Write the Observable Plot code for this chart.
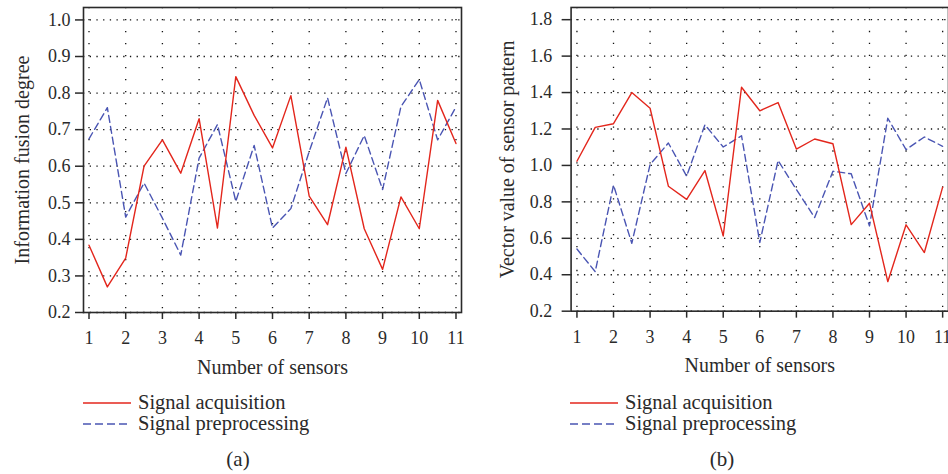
<!DOCTYPE html>
<html>
<head>
<meta charset="utf-8">
<script src="https://cdn.jsdelivr.net/npm/d3@7"></script>
<script src="https://cdn.jsdelivr.net/npm/@observablehq/plot@0.6"></script>
<style>
  html, body { margin: 0; padding: 0; background: #fff; }
  body { width: 948px; height: 474px; overflow: hidden; position: relative; font-family: "Liberation Serif", "DejaVu Serif", serif; color: #222; }
  .panel { position: absolute; top: 0; width: 474px; height: 474px; overflow: hidden; }
  .legend { position: absolute; left: 0; top: 385px; }
</style>
</head>
<body>
<div class="panel" id="pa" style="left:0"></div>
<div class="panel" id="pb" style="left:474px"></div>
<script>
// ---- data ----
const sensors = [1, 1.5, 2, 2.5, 3, 3.5, 4, 4.5, 5, 5.5, 6, 6.5, 7, 7.5, 8, 8.5, 9, 9.5, 10, 10.5, 11];
const xTicks = [1, 2, 3, 4, 5, 6, 7, 8, 9, 10, 11];

const acquisitionA = [0.384, 0.270, 0.349, 0.600, 0.672, 0.581, 0.730, 0.431, 0.845, 0.739, 0.650, 0.793, 0.518, 0.440, 0.652, 0.429, 0.318, 0.516, 0.429, 0.780, 0.662];
const preprocessingA = [0.675, 0.760, 0.461, 0.554, 0.458, 0.357, 0.622, 0.714, 0.504, 0.657, 0.431, 0.484, 0.640, 0.787, 0.580, 0.684, 0.536, 0.763, 0.837, 0.672, 0.762];
const yTicksA = [0.2, 0.3, 0.4, 0.5, 0.6, 0.7, 0.8, 0.9, 1.0];

const acquisitionB = [1.023, 1.209, 1.229, 1.400, 1.314, 0.886, 0.814, 0.972, 0.613, 1.429, 1.300, 1.345, 1.090, 1.145, 1.119, 0.675, 0.792, 0.362, 0.674, 0.522, 0.881];
const preprocessingB = [0.541, 0.417, 0.892, 0.573, 1.005, 1.123, 0.941, 1.223, 1.101, 1.163, 0.577, 1.027, 0.868, 0.714, 0.968, 0.954, 0.668, 1.259, 1.087, 1.156, 1.105];
const yTicksB = [0.2, 0.4, 0.6, 0.8, 1.0, 1.2, 1.4, 1.6, 1.8];

const seriesNames = ["Signal acquisition", "Signal preprocessing"];
const xLabel = "Number of sensors";
const yLabelA = "Information fusion degree";
const yLabelB = "Vector value of sensor pattern";
const captions = ["(a)", "(b)"];

const RED = "#e3261c";
const BLUE = "#4a55b3";
const INK = "#2a2a2a";
const FONT = "Liberation Serif";

function rows(vals) { return sensors.map((s, i) => ({sensor: s, value: vals[i]})); }

function makePanel(cfg) {
  const plot = Plot.plot({
    width: cfg.width,
    height: 385,
    marginLeft: cfg.marginLeft,
    marginRight: cfg.marginRight,
    marginTop: 7,
    marginBottom: 73,
    x: {domain: cfg.xDomain},
    y: {domain: cfg.yDomain},
    style: {fontFamily: FONT, fontSize: "18px", color: INK, background: "transparent", overflow: "visible"},
    marks: [
      Plot.gridX(xTicks, {stroke: "#111", strokeOpacity: 1, strokeWidth: 1.3, strokeDasharray: "1.3,10.7"}),
      Plot.gridY(cfg.yTicks, {stroke: "#111", strokeOpacity: 1, strokeWidth: 1.3, strokeDasharray: "1.3,5.4"}),
      Plot.line(rows(cfg.pre), {x: "sensor", y: "value", stroke: BLUE, strokeWidth: 1.4, strokeDasharray: "7,4"}),
      Plot.line(rows(cfg.acq), {x: "sensor", y: "value", stroke: RED, strokeWidth: 1.4}),
      Plot.frame({stroke: INK, strokeWidth: 1.6}),
      Plot.axisX({ticks: xTicks, tickSize: 7, tickPadding: 12, tickFormat: d => String(d), label: null, stroke: INK, strokeWidth: 1.5, fontSize: 18}),
      Plot.axisY({ticks: cfg.yTicks, tickSize: cfg.tickSizeY, tickPadding: cfg.tickPadY, tickFormat: d3.format(".1f"), label: null, stroke: INK, strokeWidth: 1.5, fontSize: 18}),
      Plot.text([cfg.yLabel], {text: d => d, frameAnchor: "left", textAnchor: "middle", rotate: -90, lineAnchor: "top", dx: -cfg.yLabelOffset, fontSize: 20, fill: INK}),
      Plot.text([xLabel], {text: d => d, frameAnchor: "bottom", textAnchor: "middle", lineAnchor: "bottom", dy: 61, fontSize: 20, fill: INK})
    ]
  });
  const host = document.getElementById(cfg.id);
  host.appendChild(plot);

  const ns = "http://www.w3.org/2000/svg";
  const leg = document.createElementNS(ns, "svg");
  leg.setAttribute("class", "legend");
  leg.setAttribute("width", 474);
  leg.setAttribute("height", 89);
  leg.setAttribute("font-family", FONT);
  const x0 = cfg.legendX;
  const items = [
    {name: seriesNames[0], color: RED, dash: null, y: 18},
    {name: seriesNames[1], color: BLUE, dash: "8,4", y: 39}
  ];
  for (const it of items) {
    const l = document.createElementNS(ns, "line");
    l.setAttribute("x1", x0); l.setAttribute("x2", x0 + 48);
    l.setAttribute("y1", it.y); l.setAttribute("y2", it.y);
    l.setAttribute("stroke", it.color); l.setAttribute("stroke-width", 1.4);
    if (it.dash) l.setAttribute("stroke-dasharray", it.dash);
    leg.appendChild(l);
    const t = document.createElementNS(ns, "text");
    t.setAttribute("x", x0 + 55); t.setAttribute("y", it.y + 6);
    t.setAttribute("font-size", 20.5); t.setAttribute("fill", INK);
    t.textContent = it.name;
    leg.appendChild(t);
  }
  const c = document.createElementNS(ns, "text");
  c.setAttribute("x", cfg.captionX); c.setAttribute("y", 81);
  c.setAttribute("text-anchor", "middle");
  c.setAttribute("font-size", 21); c.setAttribute("fill", INK);
  c.textContent = cfg.caption;
  leg.appendChild(c);
  host.appendChild(leg);
}

makePanel({
  id: "pa", width: 474, marginLeft: 83, marginRight: 13,
  xDomain: [0.85, 11.15], yDomain: [0.2, 1.034], yTicks: yTicksA,
  acq: acquisitionA, pre: preprocessingA,
  tickSizeY: 8, tickPadY: 5, yLabel: yLabelA, yLabelOffset: 69,
  legendX: 83, captionX: 238, caption: captions[0]
});

makePanel({
  id: "pb", width: 476, marginLeft: 97, marginRight: 0,
  xDomain: [0.84, 11.16], yDomain: [0.2, 1.867], yTicks: yTicksB,
  acq: acquisitionB, pre: preprocessingB,
  tickSizeY: 9, tickPadY: 10, yLabel: yLabelB, yLabelOffset: 72,
  legendX: 96, captionX: 248, caption: captions[1]
});
</script>
</body>
</html>
